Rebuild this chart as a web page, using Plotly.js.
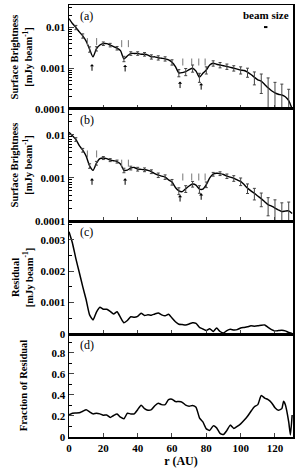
<!DOCTYPE html>
<html><head><meta charset="utf-8">
<script src="https://cdn.plot.ly/plotly-3.0.1.min.js"></script>
<style>html,body{margin:0;padding:0;background:#fff}#chart{width:302px;height:470px}</style>
</head><body><div id="chart"></div>
<script>
// radius grid (AU)
const rAB = [0,2,4,6,8,10,12,14,16,18,20,22,24,26,28,30,32,34,36,38,40,42,44,46,48,50,52,54,56,58,60,62,64,66,68,70,72,74,76,78,80,82,84,86,88,90,92,94,96,98,100,102,104,106,108,110,112,114,116,118,120,122,124,126,128,130];
// (a) surface brightness, mJy/beam
const sbA = [0.0165,0.0125,0.0100,0.0078,0.0062,0.0046,0.0029,0.0019,0.0030,0.0037,0.0040,0.0040,0.0037,0.0034,0.0031,0.0027,0.0017,0.0020,0.0023,0.0023,0.0023,0.0022,0.0022,0.0021,0.0019,0.0019,0.0018,0.00175,0.0017,0.0016,0.0014,0.0011,0.00077,0.00078,0.00082,0.00092,0.0010,0.00085,0.0006,0.00075,0.0009,0.0012,0.00132,0.00125,0.0012,0.00115,0.0011,0.00105,0.001,0.00095,0.0009,0.00088,0.0008,0.0007,0.0006,0.00052,0.00048,0.0004,0.00033,0.00028,0.00025,0.00023,0.00022,0.0002,0.00016,0.0001];
// (b) surface brightness, mJy/beam
const sbB = [0.0115,0.0095,0.0078,0.0056,0.0044,0.0032,0.0019,0.0015,0.0022,0.0028,0.0029,0.0028,0.0026,0.0025,0.0024,0.0021,0.0015,0.00152,0.0017,0.00175,0.0016,0.00158,0.00155,0.0015,0.0014,0.00125,0.00116,0.0011,0.00105,0.0009,0.0008,0.0006,0.0005,0.00048,0.00056,0.00065,0.00072,0.00068,0.00055,0.00055,0.0007,0.001,0.00122,0.00128,0.00126,0.0012,0.0011,0.00104,0.00098,0.0009,0.00083,0.0007,0.00058,0.0005,0.00044,0.00038,0.00033,0.00028,0.00024,0.00022,0.0002,0.00018,0.000165,0.00017,0.000172,0.00015];
// error-bar radii and relative errors
const rErr = [4,8,12,16,20,24,28,32,36,40,44,48,52,56,60,64,68,72,76,80,84,88,92,96,100,104,108,112,116,120,124,128];
const errRelA = [0.12,0.12,0.15,0.12,0.1,0.1,0.1,0.15,0.1,0.1,0.1,0.12,0.12,0.12,0.15,0.2,0.2,0.2,0.25,0.2,0.15,0.15,0.15,0.15,0.2,0.25,0.35,0.5,0.75,0.8,0.85,0.9];
const errRelB = [0.1,0.1,0.12,0.1,0.08,0.08,0.08,0.12,0.1,0.1,0.1,0.1,0.12,0.12,0.15,0.18,0.18,0.15,0.2,0.15,0.1,0.1,0.12,0.15,0.2,0.25,0.3,0.35,0.45,0.55,0.6,0.6];
// (c) residual, mJy/beam
const resid = [0.00326,0.0029,0.0024,0.00196,0.00151,0.00109,0.00061,0.00045,0.0007,0.00085,0.00079,0.00079,0.00072,0.00064,0.00071,0.00053,0.00036,0.00043,0.00055,0.00053,0.00056,0.00066,0.00059,0.00061,0.0006,0.00064,0.00067,0.00061,0.00058,0.00063,0.00051,0.00039,0.00031,0.0003,0.00029,0.00032,0.00036,0.00034,0.00021,0.00016,0.00011,0.00017,0.00008,0.00019,0.00008,0.00003,0.00011,0.00015,0.00013,0.00014,0.00019,0.00021,0.00023,0.00026,0.00025,0.00026,0.00028,0.00029,0.00021,0.00014,0.0001,0.00011,0.00012,0.0001,0.00005,0.00002];
// (d) fraction of residual
const rD = [0,2,4,6,8,10,12,14,16,18,20,22,24,26,28,30,32,34,36,38,40,42,44,46,48,50,52,54,56,58,60,62,64,66,68,70,72,74,76,78,80,82,84,86,88,90,92,94,96,98,100,102,104,106,108,110,112,114,116,118,120,122,124,125,126,128,129,130];
const fracD = [0.21,0.226,0.228,0.23,0.245,0.26,0.24,0.22,0.226,0.22,0.207,0.21,0.186,0.205,0.218,0.188,0.173,0.226,0.22,0.22,0.26,0.303,0.27,0.255,0.26,0.298,0.322,0.308,0.308,0.356,0.36,0.337,0.337,0.33,0.303,0.293,0.3,0.284,0.183,0.144,0.077,0.063,0.106,0.087,0.034,0.024,0.063,0.113,0.082,0.101,0.125,0.159,0.197,0.245,0.288,0.308,0.395,0.37,0.356,0.327,0.279,0.255,0.27,0.34,0.31,0.144,0.02,0.21];
// gap / ring markers (grey ticks)
const markR = [10.7,16.1,30.7,34.6,66.3,71.5,75.6,79.3];
const markA = [0.0045,0.0045,0.0040,0.0040,0.00142,0.00142,0.00142,0.00142];
const markB = [0.0036,0.0036,0.0022,0.0022,0.00105,0.00105,0.00105,0.00105];
// arrows (tip positions)
const arrowR = [13.4,32.7,64.7,77.0];
const arrowA = [0.00125,0.0012,0.00047,0.00043];
const arrowB = [0.00098,0.00098,0.0004,0.00044];
// beam size bar
const beamR = [113.6,115.6];
const beamV = [0.0102,0.0102];
const panelLabels = ['(a)','(b)','(c)','(d)'];
const logTickVals = [0.0001,0.001,0.01];
const logTickText = ['0.0001','0.001','0.01'];
const logMinor = [2e-4,3e-4,4e-4,5e-4,6e-4,7e-4,8e-4,9e-4,2e-3,3e-3,4e-3,5e-3,6e-3,7e-3,8e-3,9e-3,2e-2,3e-2];

const F = 'Liberation Serif, Times New Roman, serif';
const tickFont = {family:F,size:11,color:'#000',weight:700};
const titleFont = {family:F,size:10.5,color:'#000',weight:700};

function errTrace(sb, rel, xa, ya){
  const y = rErr.map(r => sb[rAB.indexOf(r)]);
  return {x:rErr, y:y, xaxis:xa, yaxis:ya, type:'scatter', mode:'markers',
    marker:{size:1,color:'rgba(0,0,0,0)'}, showlegend:false, hoverinfo:'skip',
    error_y:{type:'data', symmetric:false, array:y.map((v,i)=>v*rel[i]), arrayminus:y.map((v,i)=>Math.min(v*rel[i],0.93*v)), color:'#444', thickness:1, width:1.5}};
}
const lineStyle = {color:'#000', width:1.4, shape:'spline', smoothing:0.6};
const traces = [
  {x:rAB, y:sbA, xaxis:'x', yaxis:'y', type:'scatter', mode:'lines', line:lineStyle, showlegend:false},
  errTrace(sbA, errRelA, 'x', 'y'),
  {x:markR, y:markA, xaxis:'x', yaxis:'y', type:'scatter', mode:'markers', marker:{symbol:'line-ns', size:5, line:{width:1,color:'#777'}}, showlegend:false},
  {x:beamR, y:beamV, xaxis:'x', yaxis:'y', type:'scatter', mode:'lines', line:{color:'#000',width:2}, showlegend:false},
  {x:rAB, y:sbB, xaxis:'x2', yaxis:'y2', type:'scatter', mode:'lines', line:lineStyle, showlegend:false},
  errTrace(sbB, errRelB, 'x2', 'y2'),
  {x:markR, y:markB, xaxis:'x2', yaxis:'y2', type:'scatter', mode:'markers', marker:{symbol:'line-ns', size:5, line:{width:1,color:'#777'}}, showlegend:false},
  {x:rAB, y:resid, xaxis:'x3', yaxis:'y3', type:'scatter', mode:'lines', line:{color:'#000',width:1.5,shape:'spline',smoothing:0.5}, showlegend:false},
  {x:rD, y:fracD, xaxis:'x4', yaxis:'y4', type:'scatter', mode:'lines', line:{color:'#000',width:1.5,shape:'spline',smoothing:0.5}, showlegend:false}
];

const xBase = {range:[0,130.5], showgrid:false, zeroline:false, ticks:'inside', ticklen:4, tickwidth:1, dtick:20, tick0:0,
  showline:true, linecolor:'#000', linewidth:1.5, mirror:true, tickfont:tickFont, showticklabels:false};
const yBase = {showgrid:false, zeroline:false, ticks:'inside', ticklen:5, tickwidth:1, showline:true, linecolor:'#000', linewidth:1.5, mirror:true, tickfont:tickFont, automargin:false};
const dom = {a:[0.7593,1], b:[0.5,0.7593], c:[0.2384,0.5], d:[0,0.2384]};

const annotations = [];
const yrefs = ['y','y2','y3','y4'], xrefs = ['x','x2','x3','x4'];
panelLabels.forEach((t,i)=>annotations.push({text:t, xref:xrefs[i]+' domain', yref:yrefs[i]+' domain', x:0.04, y:0.985, xanchor:'left', yanchor:'top', showarrow:false, font:{family:F,size:12,color:'#000'}}));
arrowR.forEach((r,i)=>{
  annotations.push({x:r, y:Math.log10(arrowA[i]), xref:'x', yref:'y', text:'', showarrow:true, arrowhead:1, arrowsize:0.7, arrowwidth:1, arrowcolor:'#000', ax:0, ay:8});
  annotations.push({x:r, y:Math.log10(arrowB[i]), xref:'x2', yref:'y2', text:'', showarrow:true, arrowhead:1, arrowsize:0.7, arrowwidth:1, arrowcolor:'#000', ax:0, ay:8});
});
annotations.push({text:'beam size', xref:'x', yref:'y domain', x:114.6, y:0.985, xanchor:'center', yanchor:'top', showarrow:false, font:{family:F,size:11,color:'#000',weight:700}});

const layout = {
  width:302, height:470, margin:{l:69, r:9, t:5, b:33},
  paper_bgcolor:'#fff', plot_bgcolor:'#fff', showlegend:false,
  xaxis: Object.assign({}, xBase, {anchor:'y'}),
  xaxis2: Object.assign({}, xBase, {anchor:'y2', matches:'x'}),
  xaxis3: Object.assign({}, xBase, {anchor:'y3', matches:'x'}),
  xaxis4: Object.assign({}, xBase, {anchor:'y4', matches:'x', showticklabels:true, title:{text:'r (AU)', font:{family:F,size:12,color:'#000',weight:700}, standoff:2}}),
  yaxis: Object.assign({}, yBase, {domain:dom.a, anchor:'x', type:'log', range:[-4,-1.45], tickmode:'array', tickvals:logTickVals, ticktext:logTickText,
    minor:{tickmode:'array', tickvals:logMinor, ticks:'inside', ticklen:3, tickwidth:1, tickcolor:'#000'},
    title:{text:'Surface Brightness<br>[mJy beam<sup>-1</sup>]', font:titleFont, standoff:0}}),
  yaxis2: Object.assign({}, yBase, {domain:dom.b, anchor:'x2', type:'log', range:[-4,-1.4], tickmode:'array', tickvals:logTickVals, ticktext:logTickText,
    minor:{tickmode:'array', tickvals:logMinor, ticks:'inside', ticklen:3, tickwidth:1, tickcolor:'#000'},
    title:{text:'Surface Brightness<br>[mJy beam<sup>-1</sup>]', font:titleFont, standoff:0}}),
  yaxis3: Object.assign({}, yBase, {domain:dom.c, anchor:'x3', range:[0,0.0036], tickmode:'array', tickvals:[0,0.001,0.002,0.003], ticktext:['0','0.001','0.002','0.003'],
    minor:{dtick:0.0005, ticks:'inside', ticklen:3, tickwidth:1, tickcolor:'#000'},
    title:{text:'Residual<br>[mJy beam<sup>-1</sup>]', font:titleFont, standoff:5}}),
  yaxis4: Object.assign({}, yBase, {domain:dom.d, anchor:'x4', range:[0,0.98], dtick:0.2, tick0:0,
    minor:{dtick:0.1, ticks:'inside', ticklen:3, tickwidth:1, tickcolor:'#000'},
    title:{text:'Fraction of Residual', font:titleFont, standoff:22}}),
  annotations: annotations
};
Plotly.newPlot('chart', traces, layout, {displayModeBar:false, staticPlot:true});
</script>
</body></html>
